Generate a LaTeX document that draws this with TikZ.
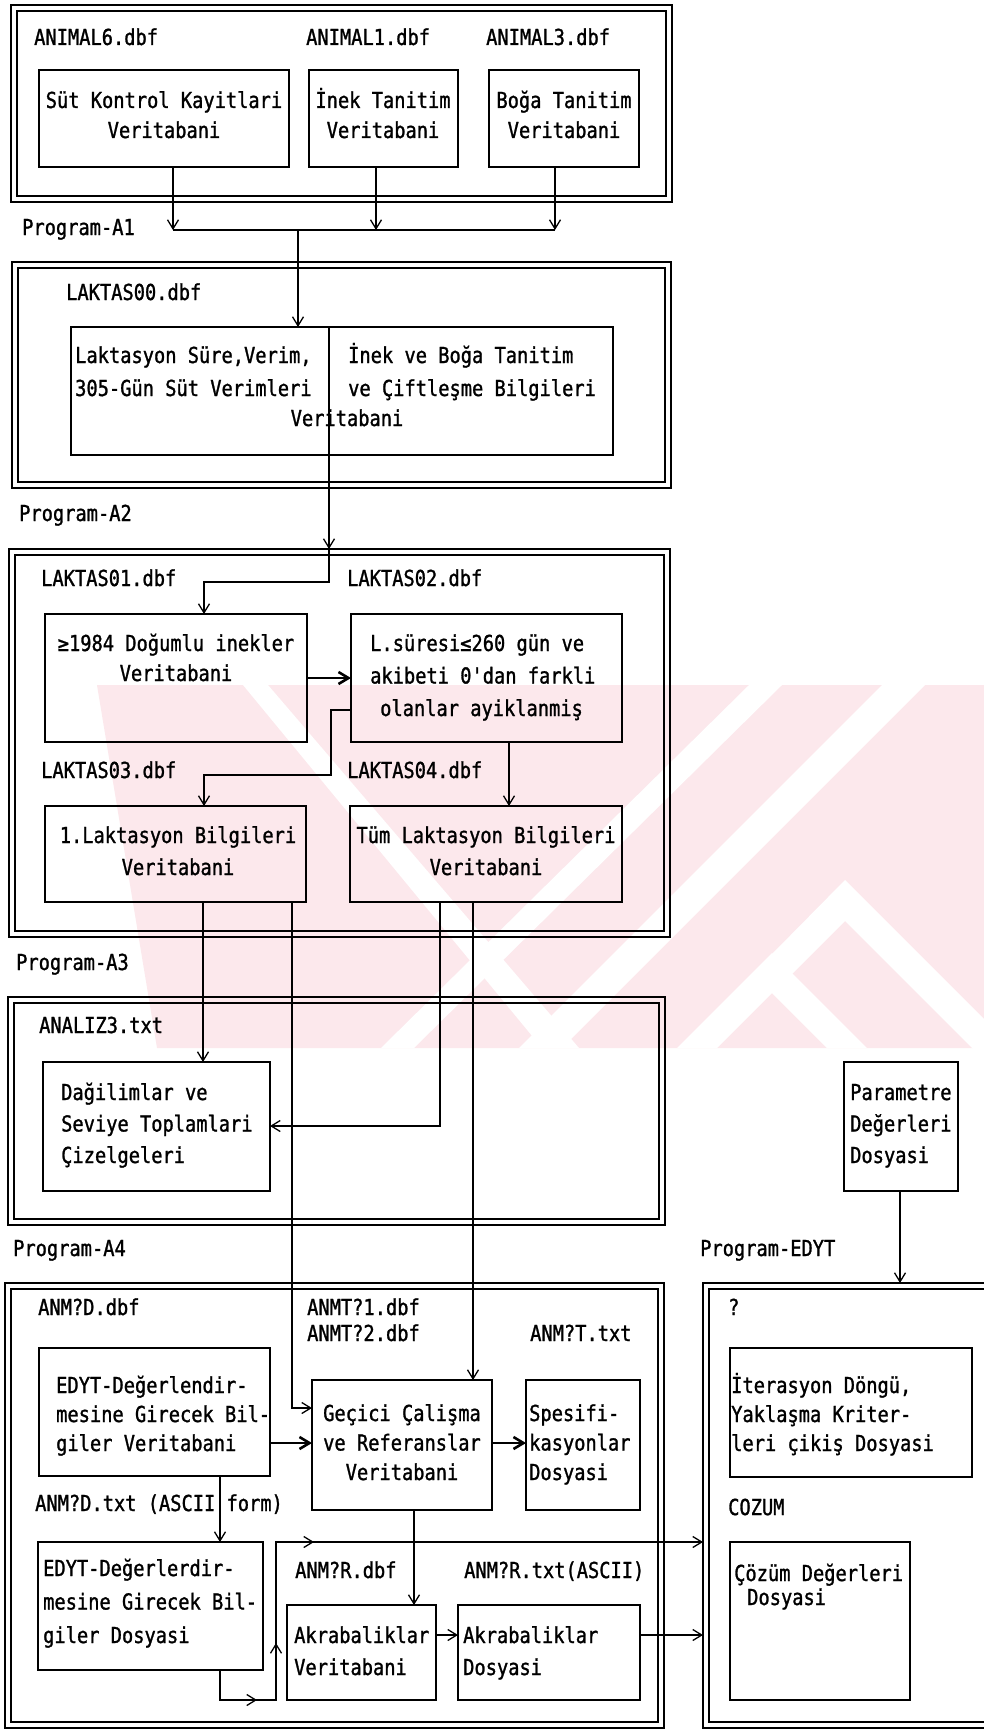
\documentclass[tikz,border=0pt]{standalone}
\usepackage{fontspec}
\newfontfamily\dm[FakeStretch=0.85,FakeBold=1.2]{DejaVu Sans Mono}
\usetikzlibrary{arrows.meta,decorations.markings}
\definecolor{wm}{RGB}{252,232,236}
\begin{document}
\begin{tikzpicture}[x=1pt,y=-1pt,
  frame/.style={draw,line width=2.4pt,inner sep=0pt,outer sep=0pt,anchor=north west},
  innerline/.style={line width=1.2pt},
  box/.style={draw,line width=1.8pt,inner sep=0pt,outer sep=0pt,anchor=north west},
  txt/.style={font=\dm\fontsize{22}{31}\selectfont,inner sep=0pt,anchor=base west,align=left},
  ctxt/.style={txt,anchor=base,align=center},
  ln/.style={line width=1.3pt},
  arr/.style={ln,-{Straight Barb[length=9pt,width=11pt]}},
  arrt/.style={line width=2.6pt,-{Straight Barb[length=10pt,width=12pt]}},
  midarr/.style={postaction={decorate},decoration={markings,
     mark=at position 67pt with {\arrow{Straight Barb[length=9pt,width=11pt]}},
     mark=at position 143pt with {\arrow{Straight Barb[length=9pt,width=11pt]}},
     mark=at position 282pt with {\arrow{Straight Barb[length=9pt,width=11pt]}}}},
]
\useasboundingbox (0,0) rectangle (984,1734);
\fill[white] (0,0) rectangle (984,1734);
% watermark
\fill[wm] (97,685) -- (984,685) -- (984,1048) -- (157,1048) -- cycle;
\fill[white] (243,685) -- (268,685) -- (579,1048) -- (542,1048) -- cycle;
\fill[white] (749,685) -- (782,685) -- (414,1048) -- (381,1048) -- cycle;
\fill[white] (882,685) -- (925,685) -- (562,1048) -- (519,1048) -- cycle;
\fill[white] (845,880) -- (984,1019) -- (984,1060) -- (845,921) -- (790,976) -- (770,956) -- cycle;
\fill[white] (772,953) -- (867,1048) -- (827,1048) -- (772,993) -- (717,1048) -- (677,1048) -- cycle;

% frames
\node[frame,minimum width=661pt,minimum height=197pt] (F1) at (11,5) {};
\node[frame,minimum width=659pt,minimum height=226pt] (F2) at (12,262) {};
\node[frame,minimum width=661pt,minimum height=388pt] (F3) at (9,549) {};
\node[frame,minimum width=657pt,minimum height=228pt] (F4) at (8,997) {};
\node[frame,minimum width=659pt,minimum height=445pt] (F5) at (5,1283) {};
\node[inner sep=0pt,outer sep=0pt,anchor=north west,minimum width=281pt,minimum height=445pt] (F6) at (703,1283) {};
\foreach \f in {F1,F2,F3,F4,F5}
  \draw[innerline] ([shift={(6,6)}]\f.north west) rectangle ([shift={(-6,-6)}]\f.south east);
\draw[line width=2.4pt] (F6.north east) -- (F6.north west) -- (F6.south west) -- (F6.south east);
\draw[innerline] ([shift={(0,6)}]F6.north east) -- ([shift={(6,6)}]F6.north west) -- ([shift={(6,-6)}]F6.south west) -- ([shift={(0,-6)}]F6.south east);

% boxes
\node[box,minimum width=250pt,minimum height=97pt] (sut) at (39,70) {};
\node[box,minimum width=149pt,minimum height=97pt] (inek) at (309,70) {};
\node[box,minimum width=150pt,minimum height=97pt] (boga) at (489,70) {};
\node[box,minimum width=542pt,minimum height=128pt] (lak) at (71,327) {};
\node[box,minimum width=262pt,minimum height=128pt] (d1984) at (45,614) {};
\node[box,minimum width=271pt,minimum height=128pt] (lsur) at (351,614) {};
\node[box,minimum width=261pt,minimum height=96pt] (lak1) at (45,806) {};
\node[box,minimum width=272pt,minimum height=96pt] (tum) at (350,806) {};
\node[box,minimum width=227pt,minimum height=129pt] (dag) at (43,1062) {};
\node[box,minimum width=114pt,minimum height=129pt] (param) at (844,1062) {};
\node[box,minimum width=231pt,minimum height=128pt] (edyt) at (39,1348) {};
\node[box,minimum width=180pt,minimum height=130pt] (gec) at (312,1380) {};
\node[box,minimum width=114pt,minimum height=130pt] (spes) at (526,1380) {};
\node[box,minimum width=242pt,minimum height=129pt] (iter) at (730,1348) {};
\node[box,minimum width=225pt,minimum height=128pt] (edyt2) at (38,1542) {};
\node[box,minimum width=149pt,minimum height=95pt] (akrv) at (287,1605) {};
\node[box,minimum width=182pt,minimum height=95pt] (akrd) at (458,1605) {};
\node[box,minimum width=180pt,minimum height=158pt] (coz) at (730,1542) {};

% texts (multi-line nodes are anchored at the baseline of their last line)
\node[txt] (tA6) at (34,45) {ANIMAL6.dbf};
\node[txt] (tA1) at (306,45) {ANIMAL1.dbf};
\node[txt] (tA3) at (486,45) {ANIMAL3.dbf};
\node[ctxt] (tsut) at (164,138) {Süt Kontrol Kayitlari\\[-1pt]Veritabani};
\node[ctxt] (tinek) at (383,138) {İnek Tanitim\\[-1pt]Veritabani};
\node[ctxt] (tboga) at (564,138) {Boğa Tanitim\\[-1pt]Veritabani};
\node[txt] (pA1) at (22,235) {Program-A1};
\node[txt] (tL0) at (66,300) {LAKTAS00.dbf};
\node[txt] (tlak1) at (75,396) {Laktasyon Süre,Verim,\\[2pt]305-Gün Süt Verimleri};
\node[txt] (tlak2) at (348,396) {İnek ve Boğa Tanitim\\[2pt]ve Çiftleşme Bilgileri};
\node[ctxt] (tlak3) at (347,426) {Veritabani};
\node[txt] (pA2) at (19,521) {Program-A2};
\node[txt] (tL1) at (41,586) {LAKTAS01.dbf};
\node[txt] (tL2) at (347,586) {LAKTAS02.dbf};
\node[ctxt] (td1984) at (176,681) {≥1984 Doğumlu inekler\\[-1pt]Veritabani};
\node[txt] (tlsur) at (370,716) {L.süresi≤260 gün ve\\[1.5pt]akibeti 0'dan farkli\\[1.5pt]\hspace{10pt}olanlar ayiklanmiş};
\node[txt] (tL3) at (41,778) {LAKTAS03.dbf};
\node[txt] (tL4) at (347,778) {LAKTAS04.dbf};
\node[ctxt] (tlak1b) at (178,875) {1.Laktasyon Bilgileri\\[1pt]Veritabani};
\node[ctxt] (ttum) at (486,875) {Tüm Laktasyon Bilgileri\\[1pt]Veritabani};
\node[txt] (pA3) at (16,970) {Program-A3};
\node[txt] (tan) at (39,1033) {ANALIZ3.txt};
\node[txt] (tdag) at (61,1163) {Dağilimlar ve\\[0.5pt]Seviye Toplamlari\\[0.5pt]Çizelgeleri};
\node[txt] (tparam) at (850,1163) {Parametre\\[0.5pt]Değerleri\\[0.5pt]Dosyasi};
\node[txt] (pA4) at (13,1256) {Program-A4};
\node[txt] (pE) at (700,1256) {Program-EDYT};
\node[txt] (tD) at (38,1315) {ANM?D.dbf};
\node[txt] (tT12) at (307,1341) {ANMT?1.dbf\\[-5pt]ANMT?2.dbf};
\node[txt] (tTt) at (530,1341) {ANM?T.txt};
\node[txt] (tq) at (728,1315) {?};
\node[txt] (tedyt) at (56,1451) {EDYT-Değerlendir-\\[-2pt]mesine Girecek Bil-\\[-2pt]giler Veritabani};
\node[ctxt] (tgec) at (402,1480) {Geçici Çalişma\\[-1.5pt]ve Referanslar\\[-1.5pt]Veritabani};
\node[txt] (tspes) at (529,1480) {Spesifi-\\[-1.5pt]kasyonlar\\[-1.5pt]Dosyasi};
\node[txt] (titer) at (731,1451) {İterasyon Döngü,\\[-2pt]Yaklaşma Kriter-\\[-2pt]leri çikiş Dosyasi};
\node[txt] (tDtxt) at (35,1511) {ANM?D.txt (ASCII form)};
\node[txt] (tcoz) at (728,1515) {COZUM};
\node[txt] (tedyt2) at (43,1643) {EDYT-Değerlerdir-\\[2.5pt]mesine Girecek Bil-\\[2.5pt]giler Dosyasi};
\node[txt] (tRdbf) at (295,1578) {ANM?R.dbf};
\node[txt] (tRtxt) at (464,1578) {ANM?R.txt(ASCII)};
\node[txt] (takrv) at (294,1675) {Akrabaliklar\\[1pt]Veritabani};
\node[txt] (takrd) at (463,1675) {Akrabaliklar\\[1pt]Dosyasi};
\node[txt] (tcozb) at (734,1605) {Çözüm Değerleri\\[-7pt]\hspace{13pt}Dosyasi};

% connectors
\coordinate (j1) at (173,230);
\coordinate (j2) at (376,230);
\coordinate (j3) at (555,230);
\coordinate (j4) at (298,230);
\draw[arr] (sut.south -| j1) -- (j1);
\draw[arr] (inek.south -| j2) -- (j2);
\draw[arr] (boga.south -| j3) -- (j3);
\draw[ln] (j1) -- (j3);
\draw[arr] (j4) -- (lak.north -| j4);

\coordinate (b1) at (329,582);
\coordinate (b2) at (204,582);
\draw[arr] (lak.north -| b1) -- (F3.north -| b1);
\draw[arr] (F3.north -| b1) -- (b1) -- (b2) -- (d1984.north -| b2);

\draw[arrt] (d1984.east) -- (lsur.west);

\coordinate (c1) at (331,710);
\coordinate (c2) at (331,775);
\coordinate (c3) at (204,775);
\draw[arr] (lsur.west |- c1) -- (c1) -- (c2) -- (c3) -- (lak1.north -| c3);

\coordinate (c4) at (509,742);
\draw[arr] (lsur.south -| c4) -- (tum.north -| c4);

\coordinate (c5) at (203,902);
\draw[arr] (lak1.south -| c5) -- (dag.north -| c5);

\coordinate (c6) at (292,1408);
\draw[arr] (lak1.south -| c6) -- (c6) -- (gec.west |- c6);

\coordinate (c7) at (440,1126);
\draw[arr] (tum.south -| c7) -- (c7) -- (dag.east |- c7);

\coordinate (c8) at (473,1380);
\draw[arr] (tum.south -| c8) -- (gec.north -| c8);

\coordinate (c9) at (900,1283);
\draw[arr] (param.south -| c9) -- (F6.north -| c9);

\coordinate (c10) at (300,1443);
\draw[arrt] (edyt.east |- c10) -- (gec.west |- c10);
\draw[arrt] (gec.east |- c10) -- (spes.west |- c10);

\coordinate (c11) at (220,1500);
\draw[arr] (edyt.south -| c11) -- (edyt2.north -| c11);

\coordinate (d1) at (220,1700);
\coordinate (d2) at (276,1700);
\coordinate (d3) at (276,1542);
\draw[arr,midarr] (edyt2.south -| d1) -- (d1) -- (d2) -- (d3) -- (F6.west |- d3);

\coordinate (c12) at (414,1550);
\draw[arr] (gec.south -| c12) -- (akrv.north -| c12);

\coordinate (c13) at (450,1635);
\draw[arr] (akrv.east |- c13) -- (akrd.west |- c13);
\draw[arr] (akrd.east |- c13) -- (F6.west |- c13);
\end{tikzpicture}
\end{document}
